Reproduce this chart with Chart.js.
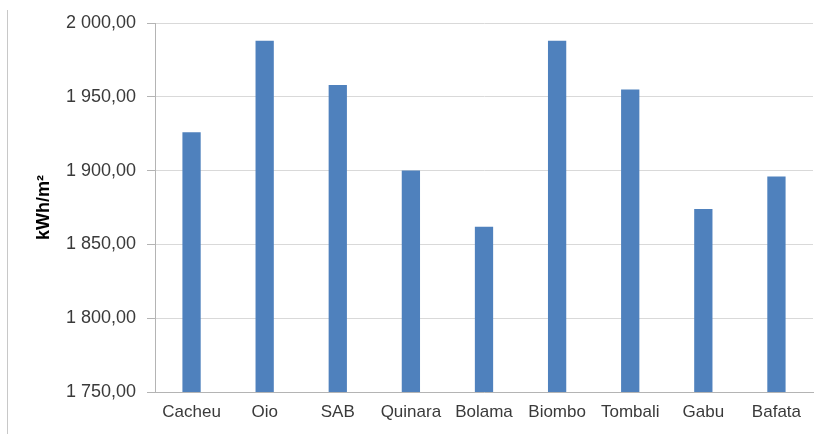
<!DOCTYPE html>
<html>
<head>
<meta charset="utf-8">
<script src="https://cdn.jsdelivr.net/npm/chart.js@4/dist/chart.umd.min.js"></script>
<style>
  html, body { margin: 0; padding: 0; background: #ffffff; }
  #wrap { width: 826px; height: 434px; position: relative; }
</style>
</head>
<body>
<div id="wrap"><canvas id="c" width="826" height="434"></canvas></div>
<script>
// Annual solar irradiation by region
const regions = ["Cacheu", "Oio", "SAB", "Quinara", "Bolama", "Biombo", "Tombali", "Gabu", "Bafata"];
const irradiation = [1926, 1988, 1958, 1900, 1862, 1988, 1955, 1874, 1896];
const yMin = 1750;
const yMax = 2000;
const yStep = 50;
const yTitle = "kWh/m²";

function fmt(v) {
  const parts = v.toFixed(2).split(".");
  const intPart = parts[0].replace(/\B(?=(\d{3})+(?!\d))/g, " ");
  return intPart + "," + parts[1];
}

// thin frame line along the left edge
const leftFrame = {
  id: "leftFrame",
  beforeDraw(chart) {
    const ctx = chart.ctx;
    ctx.save();
    ctx.strokeStyle = "#c8c8c8";
    ctx.lineWidth = 1;
    ctx.beginPath();
    ctx.moveTo(7.5, 10);
    ctx.lineTo(7.5, 434);
    ctx.stroke();
    ctx.restore();
  }
};

const FONT = "'Liberation Sans', Arial, sans-serif";

new Chart(document.getElementById("c"), {
  type: "bar",
  data: {
    labels: regions,
    datasets: [{
      data: irradiation,
      backgroundColor: "#4f81bd",
      borderWidth: 0,
      barPercentage: 0.25,
      categoryPercentage: 1.0
    }]
  },
  plugins: [leftFrame],
  options: {
    responsive: false,
    animation: false,
    layout: { padding: { top: 23, right: 13, left: 33, bottom: 0 } },
    plugins: { legend: { display: false }, tooltip: { enabled: false } },
    scales: {
      x: {
        grid: { display: false, drawTicks: false },
        border: { color: "#b4b4b4", width: 1 },
        ticks: { color: "#3a3a3a", font: { family: FONT, size: 17 }, padding: 10, maxRotation: 0, autoSkip: false },
        afterFit(scale) { scale.height = 42; }
      },
      y: {
        min: yMin,
        max: yMax,
        grid: { color: "#d9d9d9", lineWidth: 1, tickLength: 8, tickColor: "#b4b4b4" },
        border: { color: "#b4b4b4", width: 1 },
        ticks: {
          stepSize: yStep,
          color: "#3a3a3a",
          font: { family: FONT, size: 18 },
          padding: 11,
          callback: (v) => fmt(v)
        },
        title: {
          display: true,
          text: yTitle,
          color: "#000000",
          font: { family: FONT, size: 18, weight: "bold" },
          padding: { top: 0, bottom: 2 }
        },
        afterFit(scale) { scale.width = 122; }
      }
    }
  }
});
</script>
</body>
</html>
